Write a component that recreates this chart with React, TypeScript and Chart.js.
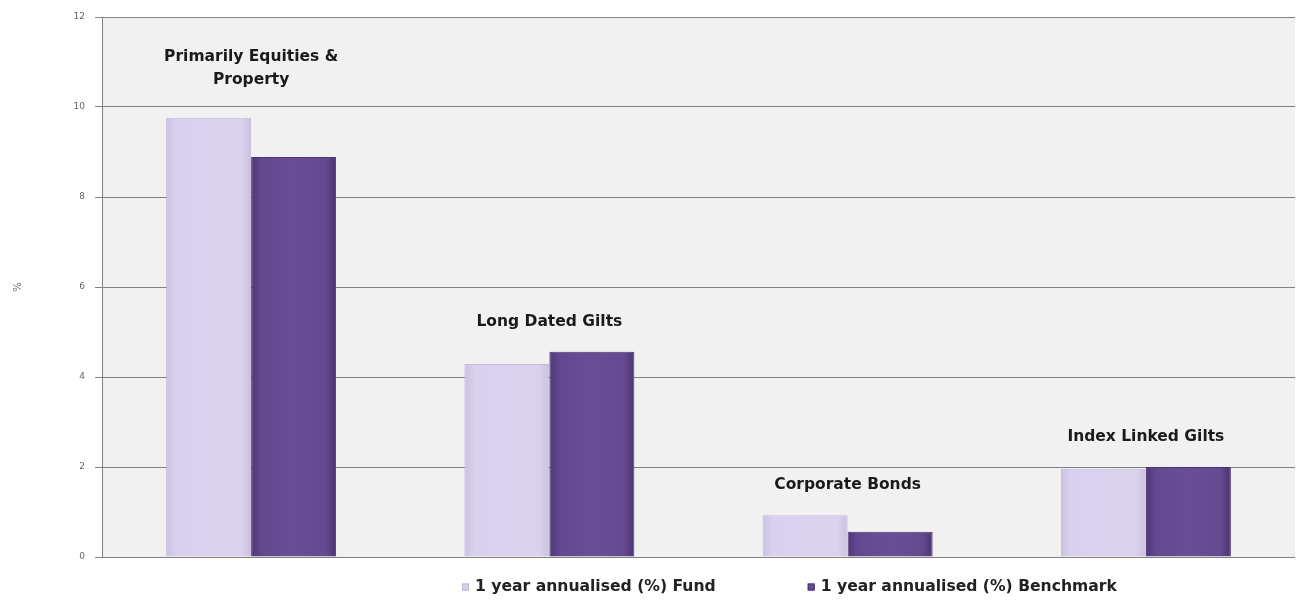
import React, { useEffect, useRef } from "react";
import { Chart, registerables } from "chart.js";

Chart.register(...registerables);

const categories: string[][] = [
  ["Primarily Equities &", "Property"],
  ["Long Dated Gilts"],
  ["Corporate Bonds"],
  ["Index Linked Gilts"],
];
const fundValues = [9.76, 4.29, 0.93, 1.96];
const benchmarkValues = [8.89, 4.56, 0.56, 2.0];
const seriesNames = ["1 year annualised (%) Fund", "1 year annualised (%) Benchmark"];
const seriesColors = ["#d8cfec", "#664a92"];
const yTicks = [0, 2, 4, 6, 8, 10, 12];

const FONT = "'DejaVu Sans', sans-serif";
const CAT_PCT = 0.57;

const bgPlugin = {
  id: "plotBg",
  beforeDraw(chart: any) {
    const { ctx, chartArea } = chart;
    if (!chartArea) return;
    ctx.save();
    ctx.fillStyle = "#f1f1f1";
    ctx.fillRect(chartArea.left, chartArea.top, chartArea.right - chartArea.left, chartArea.bottom - chartArea.top);
    ctx.restore();
  },
};

const catLabelPlugin = {
  id: "catLabels",
  afterDatasetsDraw(chart: any) {
    const { ctx } = chart;
    const m0 = chart.getDatasetMeta(0);
    const m1 = chart.getDatasetMeta(1);
    ctx.save();
    ctx.font = `bold 15.5px ${FONT}`;
    ctx.fillStyle = "#1a1a1a";
    ctx.textAlign = "center";
    ctx.textBaseline = "middle";
    const lineH = 23;
    categories.forEach((lines, i) => {
      const b0 = m0.data[i];
      const b1 = m1.data[i];
      const cx = (b0.x + b1.x) / 2;
      const top = Math.min(b0.y, b1.y);
      const lastY = top - 30 - (lines.length - 1) * 8;
      lines.forEach((ln, j) => {
        ctx.fillText(ln, cx, lastY - (lines.length - 1 - j) * lineH);
      });
    });
    ctx.restore();
  },
};

const legendPlugin = {
  id: "customLegend",
  afterDraw(chart: any) {
    const { ctx } = chart;
    ctx.save();
    ctx.font = `bold 15.6px ${FONT}`;
    ctx.textBaseline = "middle";
    ctx.textAlign = "left";
    const box = 7;
    const gapBoxText = 6;
    const gapItems = 92;
    let x = 462;
    const y = 587;
    seriesNames.forEach((n, i) => {
      ctx.fillStyle = seriesColors[i];
      ctx.fillRect(x, y - box / 2, box, box);
      ctx.strokeStyle = i === 0 ? "#bfb3da" : "#4b3472";
      ctx.lineWidth = 1;
      ctx.strokeRect(x + 0.5, y - box / 2 + 0.5, box - 1, box - 1);
      x += box + gapBoxText;
      ctx.fillStyle = "#222";
      ctx.fillText(n, x, y);
      x += ctx.measureText(n).width + gapItems;
    });
    ctx.restore();
  },
};

function barGradient(c: any, dsIndex: number) {
  const chart = c.chart;
  const xs = chart.scales && chart.scales.x;
  if (!chart.chartArea || !xs || c.dataIndex == null) return seriesColors[dsIndex];
  const center = xs.getPixelForValue(c.dataIndex);
  const catW = (chart.chartArea.right - chart.chartArea.left) / categories.length;
  const bw = (catW * CAT_PCT) / 2;
  const left = dsIndex === 0 ? center - bw : center;
  const g = chart.ctx.createLinearGradient(left, 0, left + bw, 0);
  if (dsIndex === 0) {
    g.addColorStop(0, "#cbc2e2");
    g.addColorStop(0.12, "#d9d1ee");
    g.addColorStop(0.88, "#dbd2ee");
    g.addColorStop(1, "#c9bfe0");
  } else {
    g.addColorStop(0, "#4e3777");
    g.addColorStop(0.12, "#634890");
    g.addColorStop(0.5, "#6a4d96");
    g.addColorStop(0.88, "#654991");
    g.addColorStop(1, "#4b3472");
  }
  return g;
}

export default function App() {
  const ref = useRef<HTMLCanvasElement | null>(null);
  useEffect(() => {
    if (!ref.current) return;
    const chart = new Chart(ref.current, {
      type: "bar",
      data: {
        labels: categories.map((c) => c.join(" ")),
        datasets: [
          {
            label: seriesNames[0],
            data: fundValues,
            backgroundColor: (c: any) => barGradient(c, 0),
            borderColor: "#c4b8de",
            borderWidth: 1,
          },
          {
            label: seriesNames[1],
            data: benchmarkValues,
            backgroundColor: (c: any) => barGradient(c, 1),
            borderColor: "#4b3472",
            borderWidth: 1,
          },
        ],
      },
      options: {
        animation: false,
        responsive: false,
        maintainAspectRatio: false,
        datasets: { bar: { categoryPercentage: CAT_PCT, barPercentage: 1 } },
        layout: { padding: { left: 0, right: 5, top: 17, bottom: 44 } },
        plugins: {
          tooltip: { enabled: false },
          legend: { display: false },
        },
        scales: {
          x: {
            display: false,
          },
          y: {
            min: 0,
            max: 12,
            afterBuildTicks: (scale: any) => {
              scale.ticks = yTicks.map((v) => ({ value: v }));
            },
            afterFit: (scale: any) => {
              scale.width = 102;
            },
            grid: { color: "#808080", lineWidth: 1, tickLength: 7 },
            border: { color: "#808080", width: 1 },
            ticks: { color: "#666", font: { family: FONT, size: 9 }, padding: 10 },
            title: {
              display: true,
              text: "%",
              color: "#666",
              font: { family: FONT, size: 10 },
              padding: { top: 12, bottom: 0 },
            },
          },
        },
      },
      plugins: [bgPlugin, catLabelPlugin, legendPlugin],
    });
    return () => chart.destroy();
  }, []);
  return (
    <div style={{ position: "fixed", left: 0, top: 0, width: 1300, height: 601, background: "#fff" }}>
      <canvas ref={ref} width={1300} height={601} style={{ width: 1300, height: 601 }} />
    </div>
  );
}
